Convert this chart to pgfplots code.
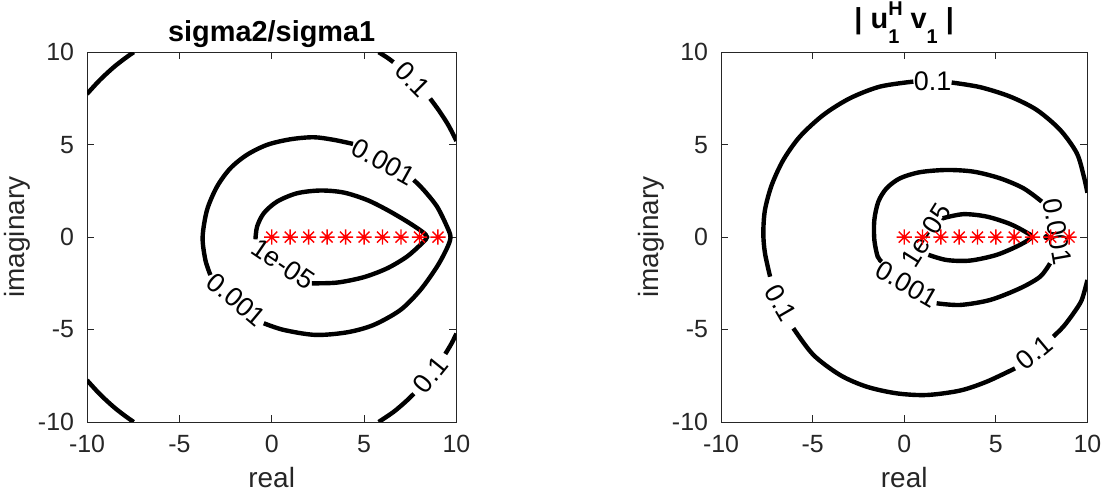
\documentclass[border=0pt]{standalone}
\usepackage{fontspec}
\setmainfont{Liberation Sans}
\usepackage{pgfplots}
\pgfplotsset{compat=1.18}
\definecolor{axgray}{HTML}{262626}
\pgfdeclareplotmark{mstar}{%
  \pgfpathmoveto{\pgfqpoint{-\pgfplotmarksize}{0pt}}\pgfpathlineto{\pgfqpoint{\pgfplotmarksize}{0pt}}%
  \pgfpathmoveto{\pgfqpoint{0pt}{-\pgfplotmarksize}}\pgfpathlineto{\pgfqpoint{0pt}{\pgfplotmarksize}}%
  \pgfpathmoveto{\pgfqpoint{-0.72\pgfplotmarksize}{-0.72\pgfplotmarksize}}\pgfpathlineto{\pgfqpoint{0.72\pgfplotmarksize}{0.72\pgfplotmarksize}}%
  \pgfpathmoveto{\pgfqpoint{-0.72\pgfplotmarksize}{0.72\pgfplotmarksize}}\pgfpathlineto{\pgfqpoint{0.72\pgfplotmarksize}{-0.72\pgfplotmarksize}}%
  \pgfusepathqstroke}
\pgfplotsset{
 mystyle/.style={
  scale only axis,
  every axis title shift=0pt,
  xmin=-10, xmax=10, ymin=-10, ymax=10,
  xtick={-10,-5,0,5,10}, ytick={-10,-5,0,5,10},
  tick align=inside, major tick length=3.5bp,
  axis line style={axgray, line width=0.5bp},
  tick style={axgray, line width=0.5bp},
  ticklabel style={font=\fontsize{12.5}{12.5}\selectfont, text=axgray},
  /pgf/number format/assume math mode=true,
  xticklabel style={yshift=-3bp},
  yticklabel style={xshift=-3bp},
  xlabel={real}, ylabel={imaginary},
  label style={font=\fontsize{14}{14}\selectfont, text=axgray},
  xlabel style={at={(axis description cs:0.5,-0.15)}, anchor=center},
  ylabel style={at={(axis description cs:-0.19,0.5)}, anchor=center},
  title style={font=\fontsize{14.5}{14.5}\selectfont\bfseries, at={(axis description cs:0.5,1)}, anchor=base},
 },
 cont/.style={black, line width=2.2bp, smooth, tension=0.5, no marks},
 stars/.style={only marks, mark=mstar, red, mark size=3.8bp, mark options={line width=0.7bp}},
}
\tikzset{clab/.style={font=\fontsize{13.5}{13.5}\selectfont, text=black, inner sep=0pt}}
\newcommand{\scr}{\fontsize{10}{10}\selectfont}
\begin{document}
\begin{tikzpicture}
\useasboundingbox (0,0) rectangle (553.5bp,248.5bp);
% ---------------- left ----------------
\begin{axis}[mystyle, width=184.7bp, height=184.9bp,
  at={(43.5bp,37.5bp)}, anchor=south west,
  title={sigma2/sigma1}, title style={yshift=5.5bp}]
% 0.1 contour (corners)
\addplot[cont] coordinates {(-10,7.74) (-9.30,8.50) (-8.53,9.21) (-7.87,9.72) (-7.47,10)};
\addplot[cont] coordinates {(-10,-7.74) (-9.30,-8.50) (-8.53,-9.21) (-7.87,-9.72) (-7.47,-10)};
\addplot[cont] coordinates {(5.79,10) (6.25,9.71) (6.59,9.46)};
\addplot[cont] coordinates {(8.58,7.49) (9.03,6.88) (9.49,6.18) (9.79,5.63) (10,5.2)};
\addplot[cont] coordinates {(5.79,-10) (6.59,-9.46) (7.23,-8.92) (7.70,-8.47)};
\addplot[cont] coordinates {(9.40,-6.32) (9.75,-5.73) (10,-5.22)};
% 0.001 contour
\addplot[cont] coordinates {(4.40,5.04) (3.36,5.26) (2.27,5.40) (1.01,5.29) (-0.25,4.99) (-1.34,4.45) (-2.24,3.72) (-2.96,2.73) (-3.50,1.47) (-3.74,0) (-3.59,-1.24) (-3.32,-2.05)};
\addplot[cont] coordinates {(-0.43,-4.66) (0.65,-5.02) (2.36,-5.29) (4.08,-5.15) (5.52,-4.75) (6.97,-3.94) (8.05,-2.86) (8.95,-1.60) (9.49,-0.60) (9.68,0) (9.49,0.57) (8.95,1.65) (8.23,2.55) (7.69,3.09)};
% 1e-05 contour
\addplot[cont] coordinates {(-0.88,-0.12) (-0.79,0.57) (-0.43,1.29) (0.29,1.92) (1.37,2.37) (2.64,2.52) (3.90,2.41) (5.16,2.01) (6.25,1.47) (7.33,0.84) (8.14,0.30) (8.41,0) (8.14,-0.33) (7.33,-1.05) (6.25,-1.69) (4.98,-2.17) (3.54,-2.46) (2.18,-2.50)};
\node[clab, rotate=-45] at (axis cs:7.64,8.53) {0.1};
\node[clab, rotate=51] at (axis cs:8.60,-7.45) {0.1};
\node[clab, rotate=-29] at (axis cs:6.05,4.07) {0.001};
\node[clab, rotate=-40] at (axis cs:-1.90,-3.38) {0.001};
\node[clab, rotate=-34] at (axis cs:0.62,-1.45) {1e-05};
\addplot[stars] coordinates {(0,0) (1,0) (2,0) (3,0) (4,0) (5,0) (6,0) (7,0) (8,0) (9,0)};
\end{axis}
% ---------------- right ----------------
\begin{axis}[mystyle, width=183.2bp, height=184.9bp,
  at={(360.5bp,37.5bp)}, anchor=south west,
  title={| u\raisebox{-7.5bp}{\rlap{\scr 1}}\raisebox{6.5bp}{\scr H} v\raisebox{-7.5bp}{\scr 1} |},
  title style={yshift=12bp}]
% 0.1 contour
\addplot[cont] coordinates {(0.50,8.41) (-1.32,8.14) (-2.96,7.51) (-4.41,6.61) (-5.69,5.44) (-6.60,4.17) (-7.23,2.82) (-7.60,1.47) (-7.69,0.21) (-7.60,-0.87) (-7.32,-2.14)};
\addplot[cont] coordinates {(-6.05,-4.93) (-4.96,-6.37) (-3.50,-7.46) (-2.05,-8.09) (-0.41,-8.45) (1.23,-8.54) (3.05,-8.30) (4.50,-7.82) (6.05,-7.10)};
\addplot[cont] coordinates {(8.14,-5.38) (8.69,-4.84) (9.24,-4.12) (9.69,-3.40) (10,-2.32)};
\addplot[cont] coordinates {(10,2.40) (9.80,3.30) (9.42,4.54) (8.51,5.80) (7.23,6.88) (5.78,7.60) (4.14,8.11) (2.59,8.36)};
% 0.001 contour
\addplot[cont] coordinates {(1.77,-3.58) (3.05,-3.67) (4.69,-3.40) (6.32,-2.77) (7.42,-2.14) (7.96,-1.42)};
\addplot[cont] coordinates {(7.51,1.92) (6.51,2.64) (5.23,3.18) (3.78,3.54) (2.32,3.63) (0.86,3.51) (-0.23,3.18) (-0.96,2.64) (-1.41,1.92) (-1.63,0.93) (-1.63,-0.15) (-1.45,-1.05) (-1.23,-1.33)};
% 1e-05 contour
\addplot[cont] coordinates {(2.10,1.02) (3.23,1.24) (4.50,1.11) (5.78,0.71) (6.69,0.24) (6.96,0) (6.32,-0.42) (5.05,-0.96) (3.59,-1.27) (2.32,-1.24) (1.32,-0.96)};
\addplot[only marks, mark=*, black, mark size=1.3bp] coordinates {(7.75,0)};
\node[clab] at (axis cs:1.55,8.42) {0.1};
\node[clab, rotate=-60] at (axis cs:-6.72,-3.55) {0.1};
\node[clab, rotate=40] at (axis cs:7.10,-6.24) {0.1};
\node[clab, rotate=-30] at (axis cs:0.15,-2.55) {0.001};
\node[clab, rotate=-80] at (axis cs:8.36,0.30) {0.001};
\node[clab, rotate=58] at (axis cs:1.20,0.10) {1e-05};
\addplot[stars] coordinates {(0,0) (1,0) (2,0) (3,0) (4,0) (5,0) (6,0) (7,0) (8,0) (9,0)};
\end{axis}
\end{tikzpicture}
\end{document}
